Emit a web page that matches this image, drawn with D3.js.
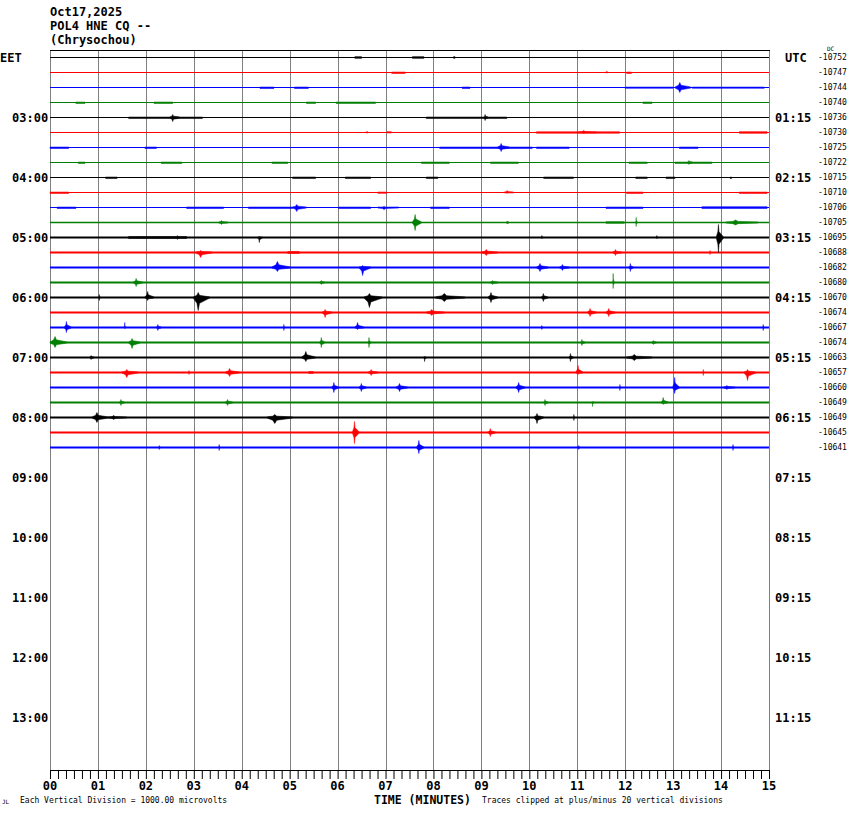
<!DOCTYPE html>
<html>
<head>
<meta charset="utf-8">
<script src="https://cdn.jsdelivr.net/npm/d3@7"></script>
<style>
body { margin: 0; background: #fff; }
text { font-family: "DejaVu Sans Mono", "Liberation Mono", monospace; }
</style>
</head>
<body>
<div id="chart"></div>
<script>
var headerLines = ['Oct17,2025', 'POL4 HNE CQ --', '(Chrysochou)'];
var eetLabels = ['EET', '03:00', '04:00', '05:00', '06:00', '07:00', '08:00', '09:00', '10:00', '11:00', '12:00', '13:00'];
var utcLabels = ['UTC', '01:15', '02:15', '03:15', '04:15', '05:15', '06:15', '07:15', '08:15', '09:15', '10:15', '11:15'];
var dcValues = [-10752, -10747, -10744, -10740, -10736, -10730, -10725, -10722, -10715, -10710, -10706, -10705,
    -10695, -10688, -10682, -10680, -10670, -10674, -10667, -10674, -10663, -10657, -10660, -10649, -10649, -10645, -10641];
// background trace thickness (px) per row
var traceNoise = [0, 0, 0, 0, 0, 0, 0, 0, 0, 0, 0, 0.5, 0.8, 1, 1, 1, 1, 1, 1, 1, 1, 1, 1, 1, 1, 1, 1];
var traceColors = ['#000000', '#ff0000', '#0000ff', '#007f00'];
var minuteLabels = ['00', '01', '02', '03', '04', '05', '06', '07', '08', '09', '10', '11', '12', '13', '14', '15'];

// wiggles: [row, start minute, end minute, px up, px down]
var events = [
    [0, 6.36, 6.5, 1, 1], [0, 7.56, 7.8, 1, 1], [0, 8.42, 8.45, 1, 1],
    [1, 7.13, 7.41, 0, 1.5], [1, 11.6, 11.63, 1, 0], [1, 12.03, 12.13, 0, 1.5],
    [2, 4.38, 4.67, 0, 1.5], [2, 5.1, 5.39, 0, 1.5], [2, 8.6, 8.76, 0, 1.5], [2, 12.0, 13.0, 0, 1], [2, 13.04, 13.37, 5, 5], [2, 13.4, 14.9, 0, 1],
    [3, 0.54, 0.73, 0, 1.5], [3, 2.17, 2.56, 0, 1.5], [3, 5.35, 5.54, 0, 1.5], [3, 5.97, 6.79, 0, 1.5], [3, 12.37, 12.56, 0, 1.5],
    [4, 1.64, 3.18, 0, 1.5], [4, 2.5, 2.7, 3, 4], [4, 7.85, 9.53, 0, 1.5], [4, 9.05, 9.14, 3, 3],
    [5, 6.6, 6.63, 1, 0], [5, 7.03, 7.12, 1, 0], [5, 10.15, 11.88, 1, 1], [5, 11.02, 11.4, 2, 1], [5, 14.38, 14.96, 1, 1],
    [6, 0, 0.39, 0, 1.5], [6, 1.98, 2.22, 0, 1.5], [6, 8.13, 10.06, 0, 1.5], [6, 9.34, 9.58, 4, 4], [6, 10.15, 10.83, 0, 1.5], [6, 13.13, 13.52, 0, 1.5],
    [7, 0.59, 0.73, 0, 1.5], [7, 2.32, 2.75, 0, 1.5], [7, 4.63, 4.96, 0, 1.5], [7, 7.75, 8.33, 0, 1.5], [7, 9.19, 9.77, 0, 1.5], [7, 12.08, 12.46, 0, 1.5], [7, 13.04, 13.81, 0, 1.5], [7, 13.3, 13.4, 2, 2],
    [8, 1.16, 1.4, 0, 1.5], [8, 5.06, 5.54, 0, 1.5], [8, 6.16, 6.69, 0, 1.5], [8, 7.85, 8.09, 0, 1.5], [8, 10.3, 10.92, 0, 1.5], [8, 12.22, 12.46, 0, 1.5], [8, 12.85, 13.04, 0, 1.5], [8, 14.19, 14.22, 0, 1.5],
    [9, 0, 0.39, 0, 1.5], [9, 6.84, 7.03, 0, 1], [9, 9.48, 9.67, 2, 1], [9, 12.03, 12.37, 0, 1.5], [9, 14.38, 14.96, 0, 1.5],
    [10, 0.15, 0.54, 0, 1.5], [10, 2.85, 3.62, 0, 1.5], [10, 4.14, 5.06, 0, 1.5], [10, 5.06, 5.35, 3, 4], [10, 6.02, 6.69, 0, 1.5], [10, 6.84, 7.27, 1, 2], [10, 7.94, 8.33, 0, 1.5], [10, 11.6, 12.37, 0, 1.5], [10, 13.6, 14.96, 1, 1.5],
    [11, 3.52, 3.71, 2, 2], [11, 7.56, 7.75, 8, 8], [11, 9.53, 9.56, 1.5, 1.5], [11, 11.6, 11.98, 1, 1], [11, 12.22, 12.25, 5, 4], [11, 14.1, 14.77, 2.5, 2.5],
    [12, 1.64, 2.85, 1.5, 1.5], [12, 2.65, 2.68, 2, 2], [12, 4.34, 4.43, 1, 5], [12, 10.25, 10.28, 2, 1], [12, 12.65, 12.68, 2, 1], [12, 13.9, 14.05, 13, 15],
    [13, 3.04, 3.38, 2, 5], [13, 4.96, 5.2, 1.5, 1.5], [13, 9.0, 9.34, 3, 3], [13, 11.74, 11.93, 3, 3], [13, 13.76, 13.79, 2, 2],
    [14, 4.63, 5.01, 6, 4], [14, 6.45, 6.69, 2, 8], [14, 10.15, 10.39, 4, 4], [14, 10.63, 10.83, 3, 3], [14, 12.08, 12.17, 4, 4],
    [15, 1.74, 1.93, 4, 4], [15, 5.63, 5.73, 2, 2], [15, 9.19, 9.34, 2, 2], [15, 11.74, 11.77, 9, 6],
    [16, 1.02, 1.05, 3, 3], [16, 1.98, 2.17, 6, 3], [16, 2.99, 3.33, 5, 13], [16, 6.55, 6.93, 4, 10], [16, 8.04, 8.66, 4, 4], [16, 9.14, 9.34, 5, 5], [16, 10.25, 10.39, 4, 4],
    [17, 5.68, 5.88, 3, 5], [17, 7.85, 8.23, 3, 3], [17, 11.21, 11.4, 4, 4], [17, 11.6, 11.79, 4, 4],
    [18, 0.3, 0.44, 6, 5], [18, 1.55, 1.58, 5, 1], [18, 2.22, 2.32, 3, 3], [18, 4.87, 4.9, 3, 3], [18, 6.36, 6.55, 5, 2], [18, 10.25, 10.28, 2, 2], [18, 14.87, 14.9, 3, 3],
    [19, 0, 0.35, 6, 5], [19, 1.64, 1.88, 4, 6], [19, 5.63, 5.73, 5, 5], [19, 6.64, 6.69, 5, 5], [19, 11.07, 11.16, 3, 3], [19, 12.56, 12.65, 2, 2],
    [20, 0.83, 0.92, 2, 2], [20, 5.25, 5.54, 6, 4], [20, 7.8, 7.85, 1, 4], [20, 10.83, 10.92, 4, 4], [20, 12.03, 12.56, 3, 3],
    [21, 1.5, 1.84, 3, 5], [21, 2.89, 2.92, 2, 2], [21, 3.66, 3.95, 4, 4], [21, 5.4, 5.49, 1.5, 1.5], [21, 6.64, 6.84, 3, 3], [21, 10.97, 11.12, 7, 2], [21, 13.62, 13.65, 3, 3], [21, 14.48, 14.72, 3, 8],
    [22, 5.88, 6.02, 5, 5], [22, 6.45, 6.6, 4, 4], [22, 7.22, 7.46, 4, 4], [22, 9.72, 9.91, 5, 5], [22, 11.88, 11.91, 3, 3], [22, 12.99, 13.13, 10, 6], [22, 14.05, 14.29, 2, 2],
    [23, 1.45, 1.55, 3, 3], [23, 3.66, 3.81, 3, 3], [23, 10.3, 10.39, 3, 3], [23, 11.31, 11.34, 1, 4], [23, 12.75, 12.89, 5, 2],
    [24, 0.88, 1.21, 5, 5], [24, 1.21, 1.6, 2, 2], [24, 4.53, 5.06, 3, 6], [24, 10.1, 10.3, 4, 6], [24, 10.92, 10.95, 3, 3],
    [25, 6.31, 6.45, 11, 11], [25, 9.14, 9.29, 4, 4],
    [26, 2.27, 2.3, 2, 2], [26, 3.52, 3.55, 3, 3], [26, 7.65, 7.8, 7, 6], [26, 11.02, 11.05, 2, 2], [26, 14.24, 14.27, 3, 3]
];

var width = 850,
    height = 814;

var svg = d3.select('#chart')
    .append('svg')
    .attr('width', width)
    .attr('height', height)
    .style('background', '#fff');

var x = d3.scaleLinear().domain([0, 15]).range([50, 769]);
var y = d3.scaleLinear().domain([0, 48]).range([57, 777]);
var plotTop = 50,
    plotBottom = 770;

// header
svg.selectAll('.header')
    .data(headerLines)
    .enter()
    .append('text')
    .attr('x', 50)
    .attr('y', function(d, i) { return 16 + i * 14; })
    .style('font-size', '12px')
    .style('font-weight', 'bold')
    .text(function(d) { return d; });

// minute grid
svg.append('g')
    .selectAll('line')
    .data(d3.range(0, 16))
    .enter()
    .append('line')
    .attr('x1', function(d) { return Math.round(x(d)) + 0.5; })
    .attr('x2', function(d) { return Math.round(x(d)) + 0.5; })
    .attr('y1', plotTop)
    .attr('y2', plotBottom)
    .attr('stroke', '#808080')
    .attr('stroke-width', 1);

svg.append('line')
    .attr('x1', x(0)).attr('x2', x(15) + 1)
    .attr('y1', plotTop + 0.5).attr('y2', plotTop + 0.5)
    .attr('stroke', '#000');

// baselines
svg.append('g')
    .selectAll('line')
    .data(dcValues)
    .enter()
    .append('line')
    .attr('x1', x(0))
    .attr('x2', x(15))
    .attr('y1', function(d, i) { return Math.round(y(i)) + 0.5; })
    .attr('y2', function(d, i) { return Math.round(y(i)) + 0.5; })
    .attr('stroke', function(d, i) { return traceColors[i % 4]; })
    .attr('stroke-width', function(d, i) { return 1 + traceNoise[i]; });

// wiggles: low ones as thin bands, bigger ones as sharp spikes
var area = d3.area()
    .x(function(p) { return x(p[0]); })
    .y0(function(p) { return p[1]; })
    .y1(function(p) { return p[2]; });

svg.append('g')
    .selectAll('path')
    .data(events)
    .enter()
    .append('path')
    .attr('d', function(e) {
        var base = Math.round(y(e[0])) + 0.5;
        var s = e[1],
            t = Math.max(e[2], e[1] + 0.03),
            pk = s + (t - s) * 0.3;
        if (Math.max(e[3], e[4]) <= 1.5) {
            return area([
                [s, base - 0.5 - e[3] * 0.35, base + 0.5 + e[4] * 0.35],
                [t, base - 0.5 - e[3] * 0.35, base + 0.5 + e[4] * 0.35]
            ]);
        }
        return area([
            [s, base - 0.6, base + 0.6],
            [pk - (t - s) * 0.08, base - e[3] * 0.45, base + e[4] * 0.45],
            [pk, base - e[3], base + e[4]],
            [pk + (t - s) * 0.08, base - e[3] * 0.45, base + e[4] * 0.45],
            [t, base - 0.6, base + 0.6]
        ]);
    })
    .attr('fill', function(e) { return traceColors[e[0] % 4]; })
    .attr('stroke', function(e) { return traceColors[e[0] % 4]; })
    .attr('stroke-width', 0.5);

// left and right time labels
svg.selectAll('.eet')
    .data(eetLabels)
    .enter()
    .append('text')
    .attr('x', function(d, i) { return i === 0 ? 0 : 12; })
    .attr('y', function(d, i) { return y(i * 4) + 5; })
    .style('font-size', '12px')
    .style('font-weight', 'bold')
    .text(function(d) { return d; });

svg.selectAll('.utc')
    .data(utcLabels)
    .enter()
    .append('text')
    .attr('x', function(d, i) { return i === 0 ? 785 : 775; })
    .attr('y', function(d, i) { return y(i * 4) + 5; })
    .style('font-size', '12px')
    .style('font-weight', 'bold')
    .text(function(d) { return d; });

svg.append('text')
    .attr('x', 827).attr('y', 51)
    .style('font-size', '6px')
    .text('DC');

svg.selectAll('.dc')
    .data(dcValues)
    .enter()
    .append('text')
    .attr('x', 818)
    .attr('y', function(d, i) { return y(i) + 3; })
    .style('font-size', '8px')
    .text(function(d) { return d; });

// bottom axis
var axis = d3.axisBottom(x)
    .tickValues(d3.range(0, 15 * 6 + 1).map(function(d) { return d / 6; }))
    .tickSize(9)
    .tickSizeOuter(0)
    .tickFormat('');

var gAxis = svg.append('g')
    .attr('transform', 'translate(0,' + plotBottom + ')')
    .call(axis);
gAxis.select('.domain').attr('stroke', '#000');
gAxis.selectAll('.tick line').attr('stroke', '#000');

svg.selectAll('.minute')
    .data(minuteLabels)
    .enter()
    .append('text')
    .attr('x', function(d, i) { return x(i); })
    .attr('y', 790)
    .attr('text-anchor', 'middle')
    .style('font-size', '12px')
    .style('font-weight', 'bold')
    .text(function(d) { return d; });

svg.append('text')
    .attr('x', 374).attr('y', 804)
    .style('font-size', '11.5px')
    .style('font-weight', 'bold')
    .text('TIME (MINUTES)');

svg.append('text')
    .attr('x', 20).attr('y', 803)
    .style('font-size', '8px')
    .text('Each Vertical Division = 1000.00 microvolts');

svg.append('text')
    .attr('x', 482).attr('y', 803)
    .style('font-size', '8px')
    .text('Traces clipped at plus/minus 20 vertical divisions');

svg.append('text')
    .attr('x', 2).attr('y', 804)
    .style('font-size', '6px')
    .text('JL');
</script>
</body>
</html>
